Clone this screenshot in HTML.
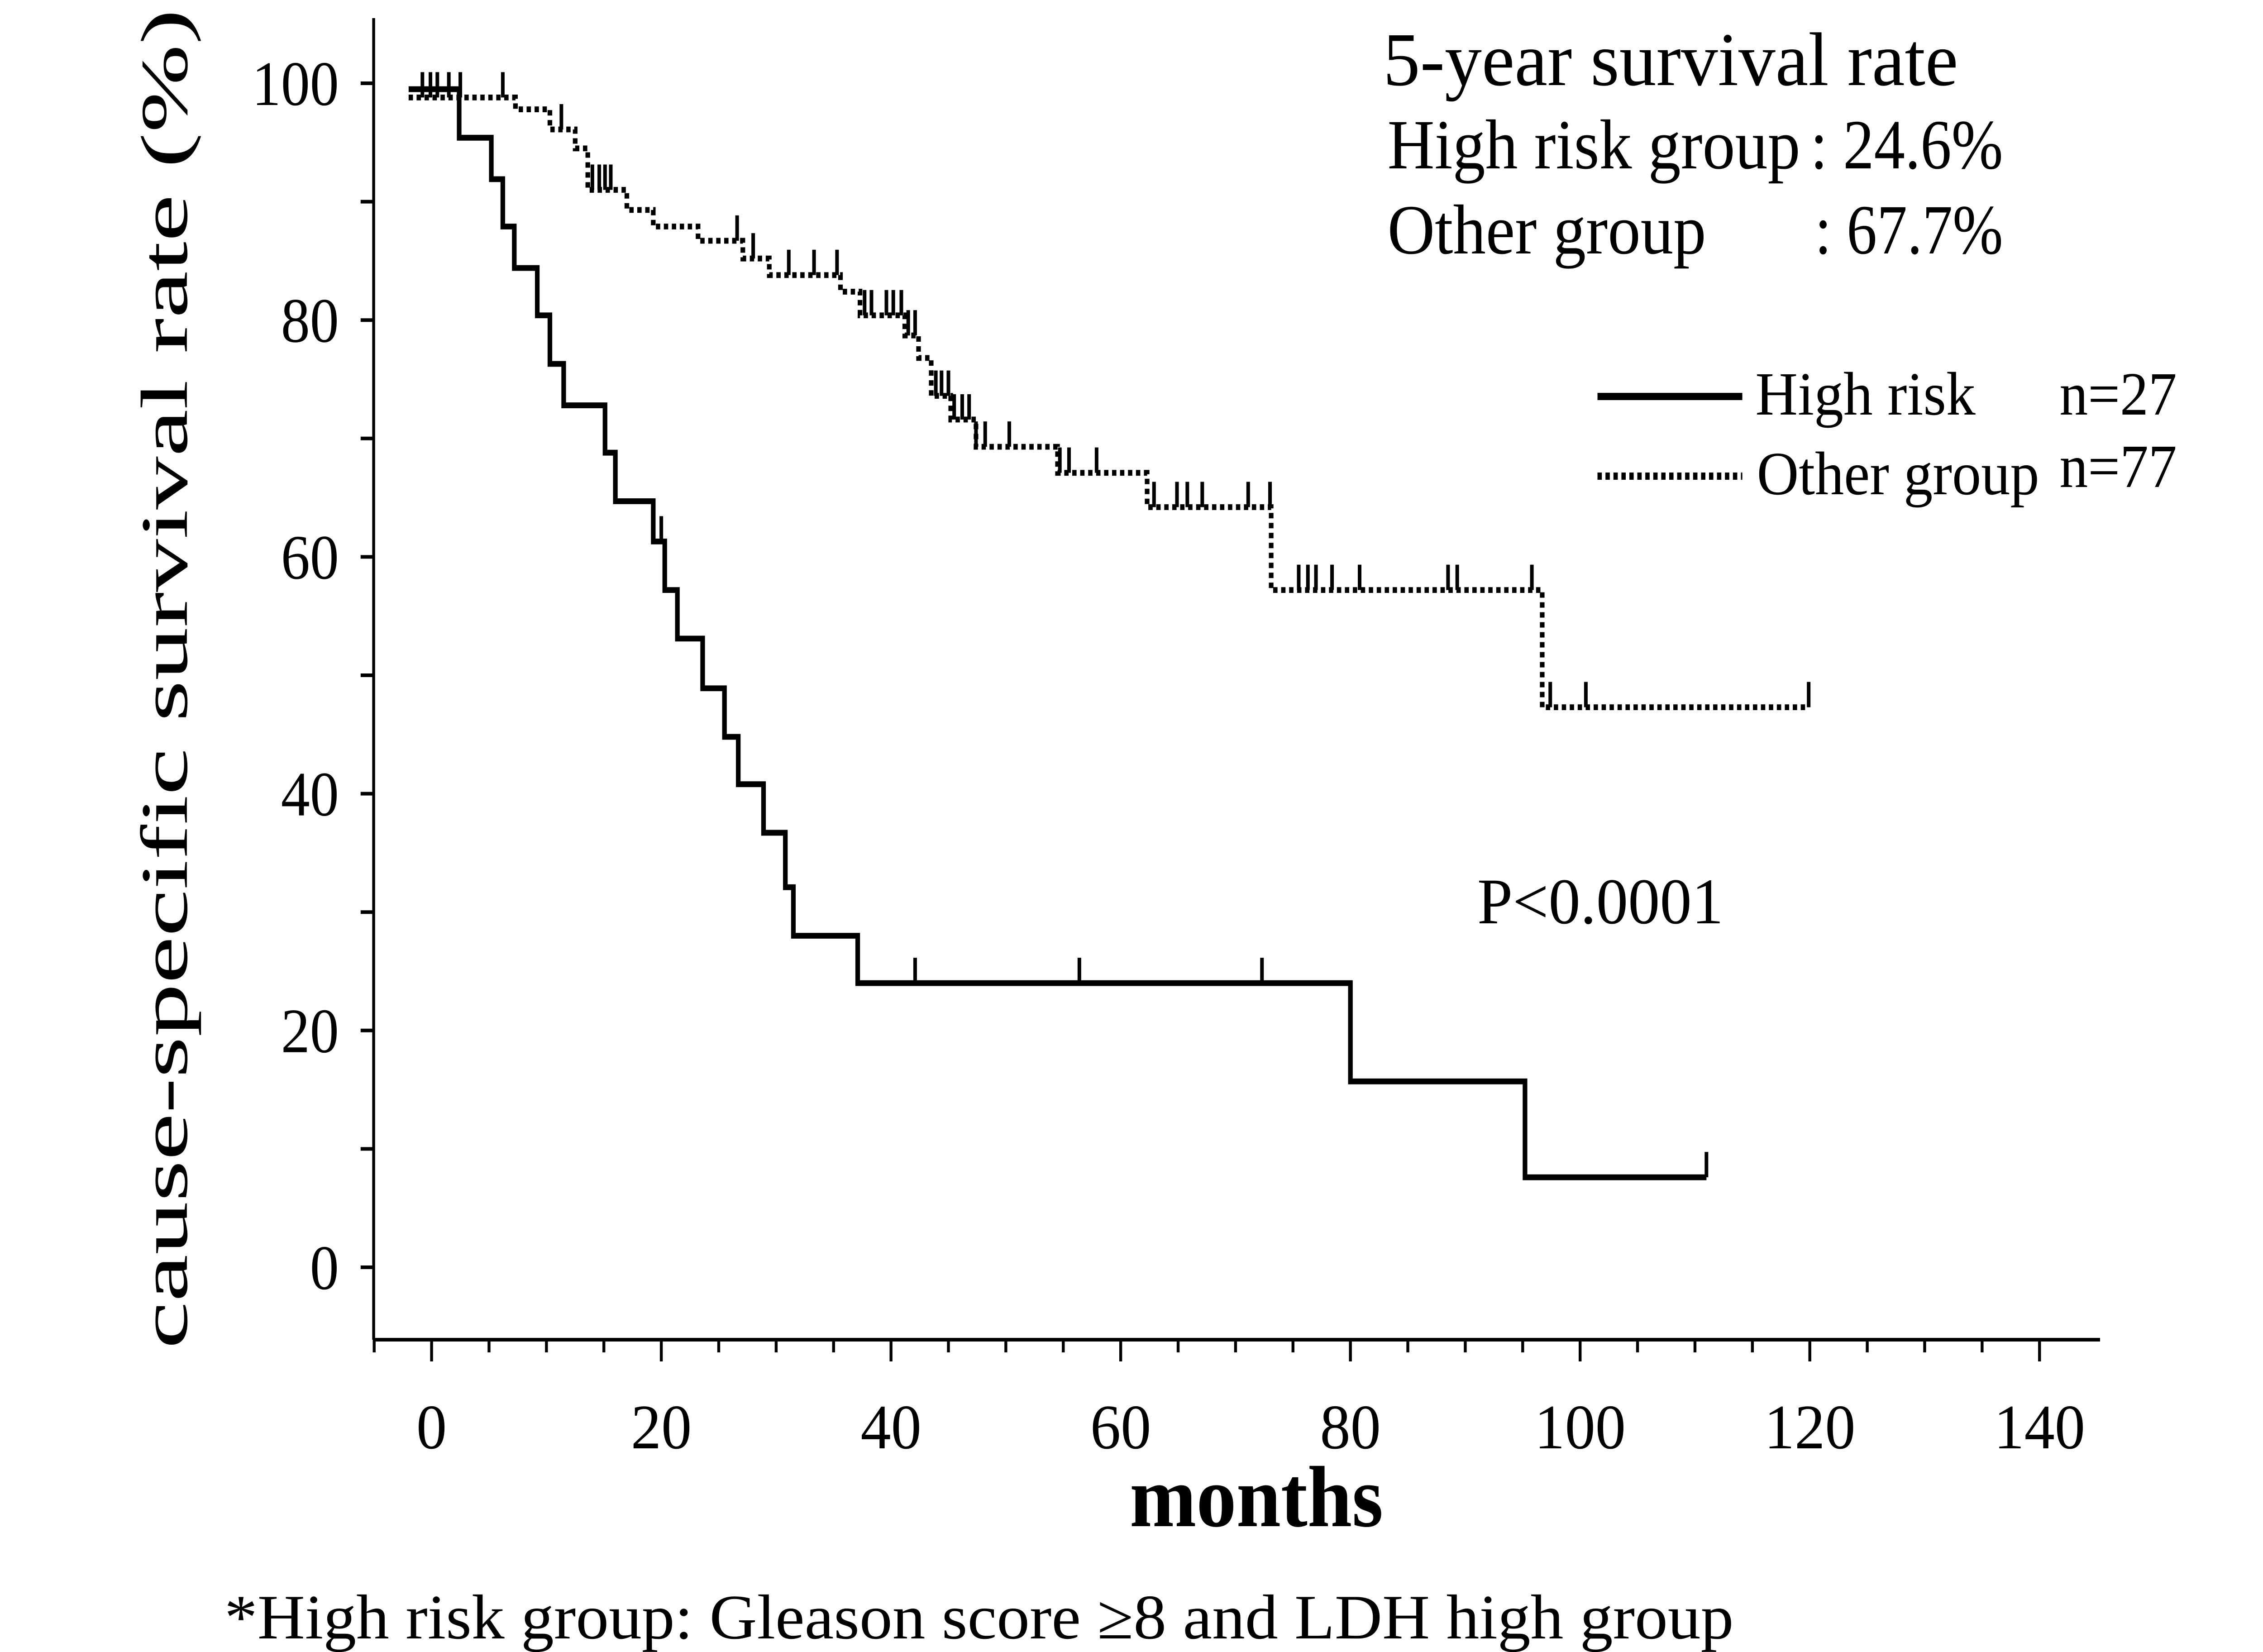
<!DOCTYPE html>
<html><head><meta charset="utf-8"><style>
html,body{margin:0;padding:0;background:#fff;overflow:hidden;width:100%;height:100%;}
svg{display:block;width:100vw;height:100vh;}
text{font-family:"Liberation Serif",serif;fill:#000;}
</style></head><body>
<svg id="chart" viewBox="0 0 1562.5 912.5" preserveAspectRatio="none" xmlns="http://www.w3.org/2000/svg">
<g id="axes"></g>
<g id="series"></g>
<text x="0" y="0" font-size="46" text-anchor="middle" textLength="740" lengthAdjust="spacingAndGlyphs" transform="translate(129,375) rotate(-90)">cause-specific survival rate (%)</text>
<text x="780" y="843" font-size="48" font-weight="bold" textLength="175" lengthAdjust="spacingAndGlyphs">months</text>
<text x="155" y="905" font-size="35" textLength="1042" lengthAdjust="spacingAndGlyphs">*High risk group:  Gleason score ≥8 and LDH high group</text>
<text x="955" y="47" font-size="42" textLength="397" lengthAdjust="spacingAndGlyphs">5-year survival rate</text>
<text x="958" y="93" font-size="39" textLength="285" lengthAdjust="spacingAndGlyphs">High risk group</text>
<text x="1250" y="93" font-size="39" textLength="133" lengthAdjust="spacingAndGlyphs">: 24.6%</text>
<text x="958" y="140" font-size="39" textLength="220" lengthAdjust="spacingAndGlyphs">Other group</text>
<text x="1253" y="140" font-size="39" textLength="130" lengthAdjust="spacingAndGlyphs">: 67.7%</text>
<line x1="1103" y1="219" x2="1203" y2="219" stroke="#000" stroke-width="4"/>
<text x="1212" y="229" font-size="34" textLength="152" lengthAdjust="spacingAndGlyphs">High risk</text>
<text x="1422" y="229" font-size="34" textLength="81" lengthAdjust="spacingAndGlyphs">n=27</text>
<line x1="1103" y1="263" x2="1203" y2="263" stroke="#000" stroke-width="4" stroke-dasharray="3,2.5"/>
<text x="1213" y="273" font-size="34" textLength="195" lengthAdjust="spacingAndGlyphs">Other group</text>
<text x="1422" y="269" font-size="34" textLength="81" lengthAdjust="spacingAndGlyphs">n=77</text>
<text x="1020" y="510" font-size="36" textLength="170" lengthAdjust="spacingAndGlyphs">P&lt;0.0001</text>
</svg>
<script>
const xTicks=[0,20,40,60,80,100,120,140];
const yTicks=[0,20,40,60,80,100];
const highTimes=[-2,2.4,5.2,6.2,7.2,9.2,10.3,11.5,15.1,16,19.3,20.3,21.4,23.6,25.5,26.7,28.9,30.8,31.5,37.1,80,95.2];
const highVals=[99.5,95.4,91.9,87.9,84.4,80.4,76.3,72.8,68.8,64.7,61.3,57.2,53.1,48.9,44.8,40.8,36.7,32.1,28,24,15.7,7.6];
const highEnd=111;
const highCensor=[20.0,20.3,42.1,56.4,72.3,111];
const otherTimes=[-2,7.3,10.3,12.5,13.6,17,19.3,23.2,27.1,29.4,35.6,37.3,41.2,42.4,43.5,45.2,47.4,54.5,62.3,73.1,96.7];
const otherVals=[98.8,97.8,96.1,94.5,91,89.3,87.9,86.7,85.2,83.8,82.4,80.4,78.7,76.8,73.6,71.6,69.3,67.1,64.2,57.2,47.3];
const otherEnd=119.9;
const otherCensor=[-0.8,-0.1,0.5,1.5,2.5,6.2,11.3,14,14.6,15.1,15.6,26.6,28,31.1,33.3,35.3,37.7,38.3,39.6,40.2,40.9,41.5,42.1,43.9,44.4,45,45.5,46.2,46.8,47.4,48.2,50.3,54.7,55.5,57.9,62.9,64.9,65.8,67.1,71.1,73,75.5,76.3,77,78.4,80.8,88.5,89.3,95.8,97.4,100.5,119.9];

const NS="http://www.w3.org/2000/svg";
const X=t=>298+t*7.93;
const Y=v=>700-v*6.54;
function mk(tag,attrs,parent){const e=document.createElementNS(NS,tag);for(const k in attrs)e.setAttribute(k,attrs[k]);parent.appendChild(e);return e;}
const axes=document.getElementById('axes');
const series=document.getElementById('series');
let a=mk('line',{x1:258,y1:10,x2:258,y2:740,stroke:'#000','stroke-width':2},axes);


a=mk('line',{x1:258,y1:740,x2:1450,y2:740,stroke:'#000','stroke-width':2},axes);


for(let v=0;v<=100;v+=10){
  const t=mk('line',{x1:249,y1:Y(v),x2:258,y2:Y(v),stroke:'#000','stroke-width':2},axes);
  
  
}
yTicks.forEach(v=>{
  const s=String(v);
  const t=mk('text',{x:234,y:Y(v)+12,'font-size':35,'text-anchor':'end',textLength:s.length*20,lengthAdjust:'spacingAndGlyphs'},axes);
  t.textContent=s;
  
  
});
for(let m=-5;m<=140;m+=5){
  const major=m%20===0;
  const t=mk('line',{x1:X(m),y1:740,x2:X(m),y2:major?752:747,stroke:'#000','stroke-width':2},axes);
  
  
}
xTicks.forEach(m=>{
  const s=String(m);
  const t=mk('text',{x:X(m),y:800,'font-size':35,'text-anchor':'middle',textLength:s.length*21,lengthAdjust:'spacingAndGlyphs'},axes);
  t.textContent=s;
  
  
});
function stepPath(times,vals,end){
  let d='M'+X(times[0])+','+Y(vals[0]);
  for(let i=1;i<times.length;i++){d+=' H'+X(times[i])+' V'+Y(vals[i]);}
  d+=' H'+X(end);return d;
}
function valAt(times,vals,t){let v=vals[0];for(let i=0;i<times.length;i++){if(times[i]<=t)v=vals[i];}return v;}
let p=mk('path',{d:stepPath(highTimes,highVals,highEnd),fill:'none',stroke:'#000','stroke-width':3.2},series);


p=mk('path',{d:stepPath(otherTimes,otherVals,otherEnd),fill:'none',stroke:'#000','stroke-width':3.2,'stroke-dasharray':'3,2.5'},series);


highCensor.forEach(t=>{
  const y=Y(valAt(highTimes,highVals,t));
  const c=mk('line',{x1:X(t),y1:y-14,x2:X(t),y2:y,stroke:'#000','stroke-width':2.5},series);
  
  
});
otherCensor.forEach(t=>{
  const y=Y(valAt(otherTimes,otherVals,t));
  const c=mk('line',{x1:X(t),y1:y-14,x2:X(t),y2:y,stroke:'#000','stroke-width':2.5},series);
  
  
});
</script>
</body></html>
